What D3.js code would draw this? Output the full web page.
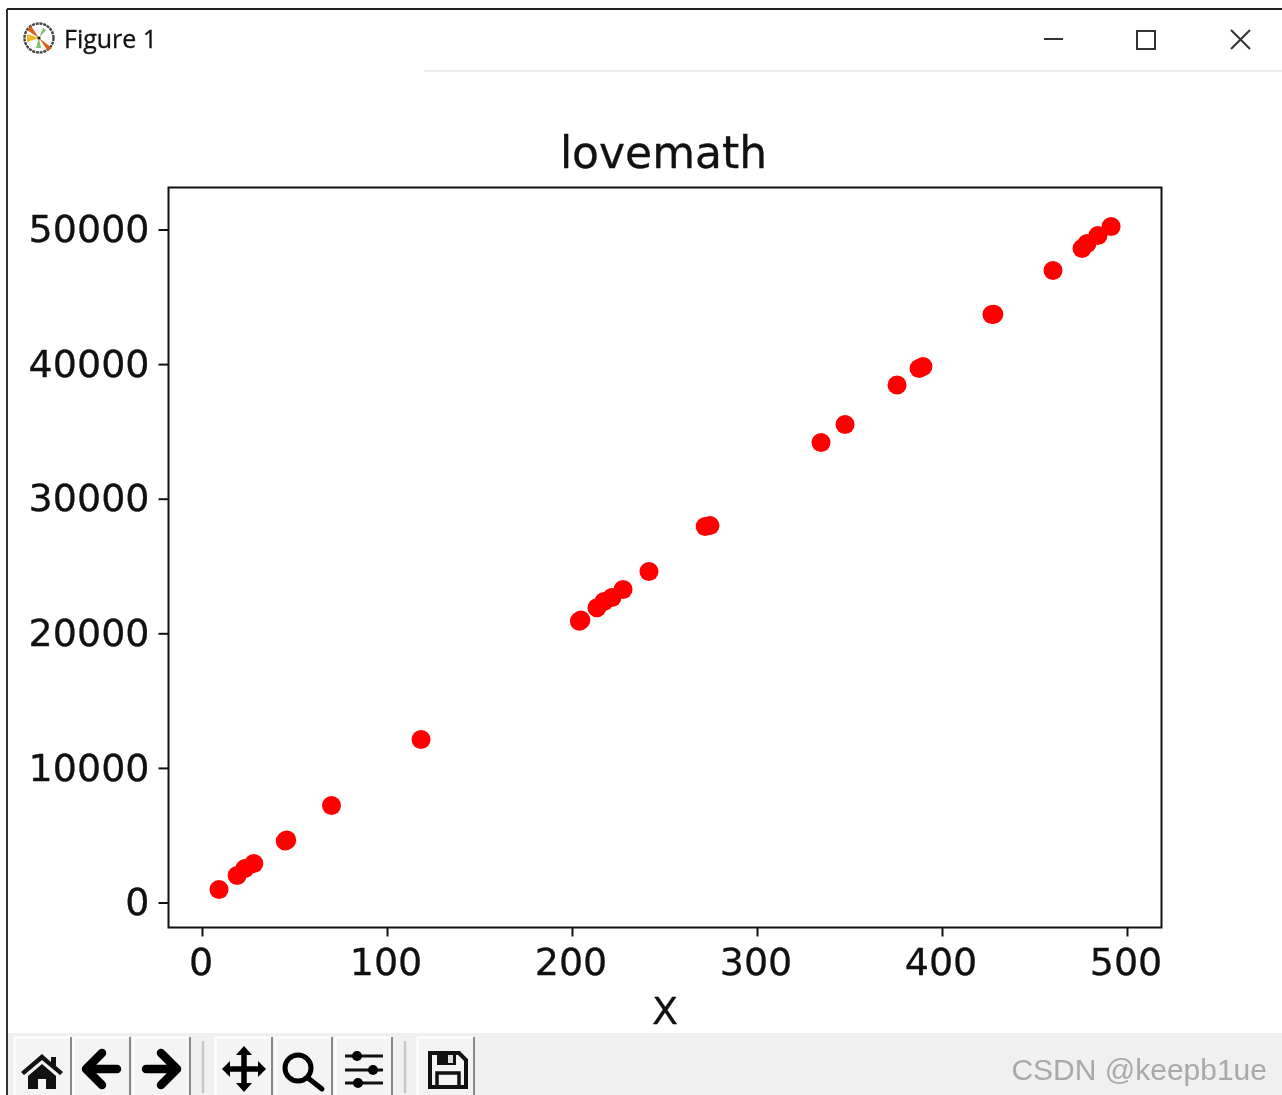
<!DOCTYPE html>
<html>
<head>
<meta charset="utf-8">
<script src="https://cdn.jsdelivr.net/npm/d3@7"></script>
<style>
  html, body { margin: 0; padding: 0; background: #fff; overflow: hidden; }
  svg { display: block; filter: blur(0.7px); }
  text { font-family: "DejaVu Sans", sans-serif; fill: #111; }
</style>
</head>
<body>
<svg></svg>
<script>
// values
const xValues = [9.2, 19, 23.2, 28, 45, 45.8, 70, 118.4, 204, 204.8, 213.5, 217.3, 221.6, 227.6, 241.6,
  272, 274.6, 334.6, 347.6, 375.7, 387.6, 389.7, 427, 428, 460, 475.7, 478.4, 484.3, 491.4];
const yValues = [966, 2006, 2526, 2900, 4560, 4640, 7200, 12110, 20900, 20980, 21900, 22360, 22660, 23250, 24590,
  27930, 28000, 34170, 35510, 38450, 39670, 39820, 43680, 43700, 46950, 48590, 48960, 49550, 50220];
const xTicks = [0, 100, 200, 300, 400, 500];
const yTicks = [0, 10000, 20000, 30000, 40000, 50000];

// configuration of svg/plot area
let config = { svg: {}, plot: {} };
config.svg.width = 1282;
config.svg.height = 1095;
config.plot.left = 168.5;
config.plot.right = 1161.5;
config.plot.top = 187.5;
config.plot.bottom = 927.5;

let svg = d3.select('svg')
  .attr('width', config.svg.width)
  .attr('height', config.svg.height);

// scales, pinned to the tick positions in the picture
let x = d3.scaleLinear().domain([0, 500]).range([202, 1127]);
let y = d3.scaleLinear().domain([0, 50000]).range([902.5, 229.5]);

// window frame
svg.append('rect').attr('width', 1282).attr('height', 1095).attr('fill', '#fff');
svg.append('line').attr('x1', 7).attr('x2', 1282).attr('y1', 9).attr('y2', 9)
  .attr('stroke', '#222').attr('stroke-width', 2);
svg.append('line').attr('x1', 7).attr('x2', 7).attr('y1', 9).attr('y2', 1095)
  .attr('stroke', '#333').attr('stroke-width', 2);
svg.append('line').attr('x1', 424).attr('x2', 1282).attr('y1', 71).attr('y2', 71)
  .attr('stroke', '#e6e6e6').attr('stroke-width', 1.6);

// title bar icon
let logo = svg.append('g').attr('transform', 'translate(39,38)');
logo.append('circle').attr('r', 14.5).attr('fill', '#fff').attr('stroke', '#444')
  .attr('stroke-width', 2.4).attr('stroke-dasharray', '3 0.8');
logo.append('path').attr('d', 'M0,0L-8,-12L-12,-8Z M0,0L9,13L13,10Z').attr('fill', '#dd5f16');
logo.append('path').attr('d', 'M0,0L-12,-4L-12,4Z').attr('fill', '#f0b81e');
logo.append('path').attr('d', 'M0,0L-3,10L2,10Z M0,0L4,-10L7,-8Z').attr('fill', '#7fc06a');
logo.append('circle').attr('r', 1.6).attr('fill', '#222');

svg.append('text').attr('x', 64).attr('y', 48)
  .style('font-family', '"Open Sans", "Noto Sans", sans-serif')
  .style('font-size', '25px').style('stroke', '#111').style('stroke-width', 0.3).text('Figure 1');

// window buttons
let winBtn = svg.append('g').attr('fill', 'none').attr('stroke', '#333').attr('stroke-width', 2);
winBtn.append('line').attr('x1', 1044).attr('x2', 1063).attr('y1', 39).attr('y2', 39);
winBtn.append('rect').attr('x', 1137).attr('y', 31).attr('width', 18).attr('height', 18);
winBtn.append('path').attr('d', 'M1231,30L1250,49M1250,30L1231,49');

// plot area
let plot = svg.append('g').attr('id', 'plot');
plot.selectAll('circle')
  .data(xValues.map((d, i) => [d, yValues[i]]))
  .join('circle')
  .attr('cx', d => x(d[0]))
  .attr('cy', d => y(d[1]))
  .attr('r', 9.5)
  .attr('fill', '#ff0000');

plot.append('rect')
  .attr('x', config.plot.left)
  .attr('y', config.plot.top)
  .attr('width', config.plot.right - config.plot.left)
  .attr('height', config.plot.bottom - config.plot.top)
  .attr('fill', 'none')
  .attr('stroke', '#111')
  .attr('stroke-width', 2);

// axes
let xAxis = d3.axisBottom(x).tickValues(xTicks).tickSize(9).tickPadding(12).tickFormat(d3.format('d'));
let yAxis = d3.axisLeft(y).tickValues(yTicks).tickSize(10).tickPadding(9).tickFormat(d3.format('d'));

let gx = svg.append('g').attr('transform', `translate(0,${config.plot.bottom})`).call(xAxis);
let gy = svg.append('g').attr('transform', `translate(${config.plot.left},0)`).call(yAxis);
for (let g of [gx, gy]) {
  g.select('.domain').remove();
  g.selectAll('line').attr('stroke', '#111').attr('stroke-width', 2);
  g.selectAll('text').style('font-size', '38px').style('stroke', '#111').style('stroke-width', 0.3);
}
gx.selectAll('text').attr('dx', -1.5);

svg.append('text').attr('x', 663.5).attr('y', 168).attr('text-anchor', 'middle')
  .style('font-size', '44px').style('stroke', '#111').style('stroke-width', 0.3).text('lovemath');
svg.append('text').attr('x', 665).attr('y', 1024).attr('text-anchor', 'middle')
  .style('font-size', '38px').style('stroke', '#111').style('stroke-width', 0.3).text('X');

// toolbar
const buttonLefts = [14, 73, 133, 215, 275, 335, 417];
const buttonNames = ['home', 'back', 'forward', 'pan', 'zoom', 'subplots', 'save'];
const separators = [203, 405];

svg.append('rect').attr('x', 8).attr('y', 1033).attr('width', 1274).attr('height', 62).attr('fill', '#f0f0f0');

separators.forEach(s => {
  svg.append('line').attr('x1', s).attr('x2', s).attr('y1', 1041).attr('y2', 1093)
    .attr('stroke', '#c8c8c8').attr('stroke-width', 2.5);
});

const icons = {
  home: g => {
    g.append('path').attr('d', 'M28,17L7,35L10,38L28,23L46,38L49,35L42,29V20H37V25Z').attr('fill', '#111');
    g.append('path').attr('d', 'M28,27L14,39V52H24V42H32V52H42V39Z').attr('fill', '#111');
  },
  back: g => {
    g.append('path').attr('d', 'M44,32H16M29,16L13,32L29,48').attr('fill', 'none').attr('stroke', '#000')
      .attr('stroke-width', 8.5).attr('stroke-linecap', 'round').attr('stroke-linejoin', 'round');
  },
  forward: g => {
    g.append('path').attr('d', 'M13,32H41M28,16L44,32L28,48').attr('fill', 'none').attr('stroke', '#000')
      .attr('stroke-width', 8.5).attr('stroke-linecap', 'round').attr('stroke-linejoin', 'round');
  },
  pan: g => {
    g.append('path').attr('d', 'M29,14V50M11,32H47').attr('stroke', '#000').attr('stroke-width', 5.5);
    g.append('path').attr('d', 'M29,9L21,18H37Z M29,55L21,46H37Z M7,32L15,24V40Z M51,32L43,24V40Z').attr('fill', '#000');
  },
  zoom: g => {
    g.append('circle').attr('cx', 23).attr('cy', 31).attr('r', 13).attr('fill', 'none')
      .attr('stroke', '#000').attr('stroke-width', 5);
    g.append('line').attr('x1', 33).attr('y1', 41).attr('x2', 47).attr('y2', 52)
      .attr('stroke', '#000').attr('stroke-width', 5).attr('stroke-linecap', 'round');
  },
  subplots: g => {
    [[19, 22], [33, 38], [46, 23]].forEach(r => {
      g.append('line').attr('x1', 10).attr('x2', 48).attr('y1', r[0]).attr('y2', r[0])
        .attr('stroke', '#111').attr('stroke-width', 3);
      g.append('circle').attr('cx', r[1]).attr('cy', r[0]).attr('r', 5).attr('fill', '#000');
    });
  },
  save: g => {
    g.append('path').attr('d', 'M13,16H42L49,23V50H13Z').attr('fill', 'none')
      .attr('stroke', '#111').attr('stroke-width', 4);
    g.append('path').attr('d', 'M20,16H39V28H20Z').attr('fill', '#111');
    g.append('rect').attr('x', 31).attr('y', 18).attr('width', 5).attr('height', 8).attr('fill', '#ddd');
    g.append('rect').attr('x', 20).attr('y', 36).attr('width', 22).attr('height', 14).attr('fill', 'none')
      .attr('stroke', '#111').attr('stroke-width', 3.5);
  }
};

buttonLefts.forEach((left, i) => {
  let b = svg.append('g').attr('transform', `translate(${left},1037)`);
  b.append('rect').attr('width', 58).attr('height', 60).attr('fill', '#f4f4f4');
  b.append('path').attr('d', 'M0.5,60V0.5H57').attr('fill', 'none').attr('stroke', '#fff').attr('stroke-width', 2);
  b.append('path').attr('d', 'M57,0V60').attr('fill', 'none').attr('stroke', '#888').attr('stroke-width', 2);
  icons[buttonNames[i]](b);
});

// watermark
svg.append('text').attr('x', 1267).attr('y', 1080).attr('text-anchor', 'end')
  .style('font-family', '"Liberation Sans", sans-serif')
  .style('font-size', '30px').style('fill', '#a9a9a9').text('CSDN @keepb1ue');
</script>
</body>
</html>
